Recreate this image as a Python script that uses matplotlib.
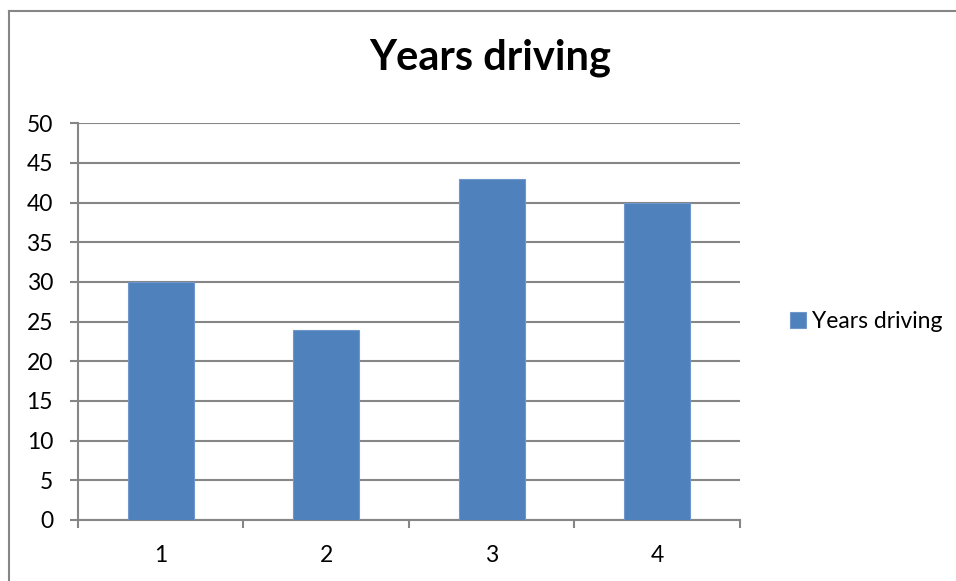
import numpy as np
import matplotlib.pyplot as plt
from matplotlib.lines import Line2D

# Datos del grafico
categorias = ["1", "2", "3", "4"]
anios_conduciendo = [30, 24, 43, 40]
serie = "Years driving"

plt.rcParams['font.family'] = ['Lato', 'DejaVu Sans']

color_barra = '#4F81BD'
color_gris = '#868686'

fig = plt.figure(figsize=(9.56, 5.81), dpi=100)
ax = fig.add_axes([0.0816, 0.105, 0.774 - 0.0816, 0.788 - 0.105])

x = np.arange(1, len(categorias) + 1)
ax.bar(x, anios_conduciendo, width=0.4, color=color_barra,
       edgecolor='#6F97CB', linewidth=0.8, label=serie, zorder=3)

ax.set_xlim(0.5, len(categorias) + 0.5)
ax.set_ylim(0, 50)
ax.set_yticks(np.arange(0, 51, 5))
ax.yaxis.grid(True, color=color_gris, linewidth=1.5, zorder=0)

# Marcas del eje x en los bordes de cada categoria, etiquetas al centro
ax.set_xticks(np.arange(0.5, len(categorias) + 1, 1))
ax.set_xticklabels([])
ax.set_xticks(x, minor=True)
ax.set_xticklabels(categorias, minor=True)
ax.tick_params(axis='x', which='major', length=6, width=1.5, color=color_gris)
ax.tick_params(axis='x', which='minor', length=0, pad=18, labelsize=16.5)
ax.tick_params(axis='y', length=6, width=1.5, color=color_gris, pad=12, labelsize=16.5)

for lado in ['top', 'right']:
    ax.spines[lado].set_visible(False)
for lado in ['left', 'bottom']:
    ax.spines[lado].set_color(color_gris)
    ax.spines[lado].set_linewidth(1.5)

fig.text(0.513, 0.881, "Years driving", ha='center', va='baseline',
         fontsize=30, fontweight='bold')

ax.legend(loc='center left', bbox_to_anchor=(1.0, 0.5), frameon=False,
          fontsize=16.5, handlelength=0.7, handleheight=0.7, handletextpad=0.25,
          borderaxespad=1.8)

# Borde exterior del area del grafico
fig.add_artist(Line2D([9 / 956, 9 / 956], [0, 1 - 11 / 581], color=color_gris, linewidth=1.5))
fig.add_artist(Line2D([9 / 956, 1], [1 - 11 / 581, 1 - 11 / 581], color=color_gris, linewidth=1.5))

fig.savefig("out.png", dpi=100)
